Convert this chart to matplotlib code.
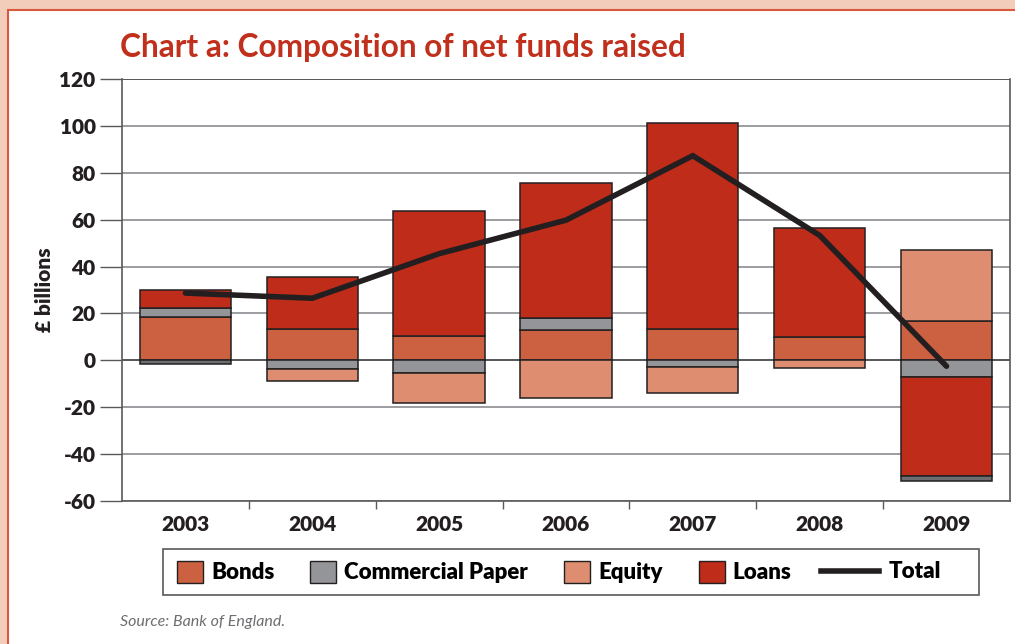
import numpy as np
import matplotlib.pyplot as plt
from matplotlib.patches import Rectangle, Patch
from matplotlib.lines import Line2D

plt.rcParams['font.family'] = ['Lato', 'DejaVu Sans']

years = ['2003', '2004', '2005', '2006', '2007', '2008', '2009']
bonds = [18.3, 13.2, 10.6, 12.9, 13.2, 9.9, 16.6]
cp = [4.2, -3.5, -5.5, 5.3, -3.0, 0.0, -6.9]
equity = [0.0, -5.5, -12.8, -15.9, -11.0, -3.3, 30.5]
loans = [7.7, 22.3, 53.2, 57.5, 88.1, 46.7, -42.3]
other = [-1.5, 0.0, 0.0, 0.0, 0.0, 0.0, -2.4]
total = [28.7, 26.5, 45.5, 59.8, 87.3, 53.3, -2.5]

red = '#c0301c'
ink = '#231f20'
series = [('Bonds', bonds, '#cc6141'),
          ('Commercial Paper', cp, '#939598'),
          ('Equity', equity, '#de8d70'),
          ('Loans', loans, '#bf2c1a'),
          (None, other, '#6d6e71')]

W, H = 1015, 644
fig = plt.figure(figsize=(W / 100, H / 100), dpi=100, facecolor='#f2cdb9')
# white panel with red border
fig.patches.append(Rectangle((8 / W, -0.1), 1.2, 1.084, transform=fig.transFigure,
                             facecolor='white', edgecolor='#d9573f', lw=1.5, zorder=-5))

ax = fig.add_axes([0.1202, 0.222, 0.8748, 0.6553])
ax.set_facecolor('none')
x = np.arange(len(years))
pos = np.zeros(len(years))
neg = np.zeros(len(years))
for name, vals, col in series:
    v = np.array(vals)
    for i in range(len(v)):
        if v[i] == 0:
            continue
        base = pos[i] if v[i] > 0 else neg[i]
        ax.bar(x[i], v[i], bottom=base, width=0.72, color=col, edgecolor=ink,
               linewidth=1.1, zorder=3)
    pos += np.where(v > 0, v, 0)
    neg += np.where(v < 0, v, 0)

ax.plot(x, total, color=ink, lw=4, zorder=4, solid_capstyle='round', solid_joinstyle='miter')

ax.set_ylim(-60, 120)
ax.set_xlim(-0.5, len(years) - 0.5)
ax.set_yticks(range(-60, 121, 20))
ax.set_yticklabels([str(t) for t in range(-60, 121, 20)], fontsize=15, fontweight='heavy', color=ink)
ax.tick_params(axis='y', length=15.5, width=1, color='#58595b', pad=3.5)
ax.yaxis.grid(True, color='#939598', lw=1.3, zorder=1)
ax.axhline(0, color='#58595b', lw=1.4, zorder=2)
ax.axhline(120, color='#58595b', lw=1.4, zorder=2)

ax.set_xticks(x)
ax.set_xticklabels(years, fontsize=15, fontweight='heavy', color=ink)
ax.tick_params(axis='x', length=0, pad=10)
ax.set_xticks(np.arange(0.5, len(years) - 1), minor=True)
ax.tick_params(axis='x', which='minor', length=6, width=1, color='#58595b')

ax.spines['top'].set_visible(False)
for s in ['left', 'right', 'bottom']:
    ax.spines[s].set_color('#58595b')
    ax.spines[s].set_linewidth(1.2)

ax.set_ylabel('£ billions', fontsize=15, fontweight='heavy', color=ink, labelpad=4)

fig.text(120 / W, 1 - 48 / H, 'Chart a: Composition of net funds raised', fontsize=22.8,
         fontweight='bold', color=red, va='center', ha='left')

# key: framed box holding the four swatches and the total line
fs = 16
fpx = fs * 100 / 72
ky = 1 - 572 / H
fig.patches.append(Rectangle((163 / W, 1 - 595 / H), (979 - 163) / W, 46 / H,
                             transform=fig.transFigure, facecolor='white',
                             edgecolor='#58595b', lw=1.2, zorder=1))
handles = [Patch(facecolor=c, edgecolor=ink, lw=1) for n, v, c in series if n]
labels = [n for n, v, c in series if n]
fig.legend(handles, labels, loc='center left', bbox_to_anchor=(177 / W, ky),
           ncol=4, frameon=False, handlelength=26 / fpx, handleheight=25 / fpx,
           handletextpad=8 / fpx, columnspacing=36 / fpx, borderpad=0, borderaxespad=0,
           prop={'size': fs, 'weight': 'heavy'})
fig.legend([Line2D([], [], color=ink, lw=4)], ['Total'], loc='center right',
           bbox_to_anchor=(941 / W, ky), frameon=False, handlelength=58 / fpx,
           handletextpad=10 / fpx, borderpad=0, borderaxespad=0,
           prop={'size': fs, 'weight': 'heavy'})

fig.text(120 / W, 1 - 622 / H, 'Source: Bank of England.', fontsize=11.5, style='italic',
         color='#6d6e71', va='center', ha='left')

fig.savefig('out.png', dpi=100, facecolor=fig.get_facecolor())
